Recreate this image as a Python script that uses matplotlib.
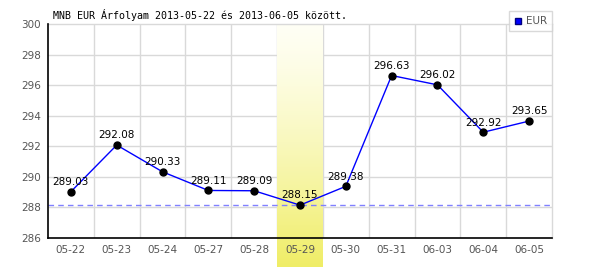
import numpy as np
import matplotlib
matplotlib.use("Agg")
import matplotlib.pyplot as plt
import matplotlib.transforms as mtransforms
from matplotlib.lines import Line2D

# Data
dates = ['05-22', '05-23', '05-24', '05-27', '05-28', '05-29',
         '05-30', '05-31', '06-03', '06-04', '06-05']
eur_rates = [289.03, 292.08, 290.33, 289.11, 289.09, 288.15,
             289.38, 296.63, 296.02, 292.92, 293.65]
highlight_date = '05-29'
y_ticks = [286, 288, 290, 292, 294, 296, 298, 300]
title = 'MNB EUR Árfolyam 2013-05-22 és 2013-06-05 között.'

fig = plt.figure(figsize=(6, 2.7), dpi=100)
ax = fig.add_axes([48 / 600, 32 / 270, 504 / 600, 214 / 270])

x = np.arange(len(dates))

# grid on category borders and y ticks
for xb in np.arange(0.5, len(dates) - 0.5, 1):
    ax.axvline(xb, color='#d9d9d9', lw=1, zorder=0.5)
for yt in y_ticks[1:-1]:
    ax.axhline(yt, color='#d9d9d9', lw=1, zorder=0.5)

# yellow gradient band behind the highlighted day
hi = dates.index(highlight_date)
grad = np.linspace(0, 1, 256) ** 1.3
top_col = np.array([1.0, 1.0, 0.96])
bot_col = np.array([0.94, 0.93, 0.40])
img = top_col[None, None, :] + (bot_col - top_col)[None, None, :] * grad[:, None, None]
trans = mtransforms.blended_transform_factory(ax.transData, ax.transAxes)
ax.imshow(img, extent=[hi - 0.5, hi + 0.5, -0.134, 1.0], origin='upper',
          transform=trans, aspect='auto', clip_on=False, zorder=1)
ax.set_xlim(-0.5, len(dates) - 0.5)
ax.set_ylim(y_ticks[0], y_ticks[-1])

# minimum line
ax.axhline(min(eur_rates), color='#8080ff', lw=1, ls=(0, (4, 3)), zorder=1.5)

ax.plot(x, eur_rates, color='#0000ff', lw=1, zorder=2)
ax.plot(x, eur_rates, 'o', color='black', ms=5, zorder=3)
for xi, v in zip(x, eur_rates):
    ax.annotate(f'{v:.2f}', (xi, v), xytext=(0, 7), textcoords='offset points',
                ha='center', va='center', fontsize=7.5, color='black', zorder=4)

ax.set_xticks(x)
ax.set_xticklabels(dates)
ax.set_yticks(y_ticks)
ax.tick_params(length=0, labelsize=7.5, labelcolor='#555555', pad=5)
ax.xaxis.set_zorder(5)
ax.yaxis.set_zorder(5)

for side in ['left', 'bottom']:
    ax.spines[side].set_color('black')
    ax.spines[side].set_linewidth(1.2)
    ax.spines[side].set_zorder(5)
for side in ['top', 'right']:
    ax.spines[side].set_color('#d9d9d9')
    ax.spines[side].set_linewidth(1)

fig.text(53 / 600, 1 - 15 / 270, title, family='DejaVu Sans Mono',
         fontsize=7.2, va='center', ha='left')

handle = Line2D([], [], marker='s', color='#0000ff', markeredgecolor='#000080',
                ls='none', ms=5)
leg = fig.legend([handle], ['EUR'], loc='upper right',
                 bbox_to_anchor=(552 / 600, 1 - 11 / 270), fontsize=7.5,
                 frameon=True, fancybox=False, handlelength=0.8,
                 handletextpad=0.3, borderpad=0.5, borderaxespad=0)
leg.get_frame().set_edgecolor('#d0d0d0')
leg.get_frame().set_linewidth(1)
for t in leg.get_texts():
    t.set_color('#555555')

fig.savefig('out.png', dpi=100)
